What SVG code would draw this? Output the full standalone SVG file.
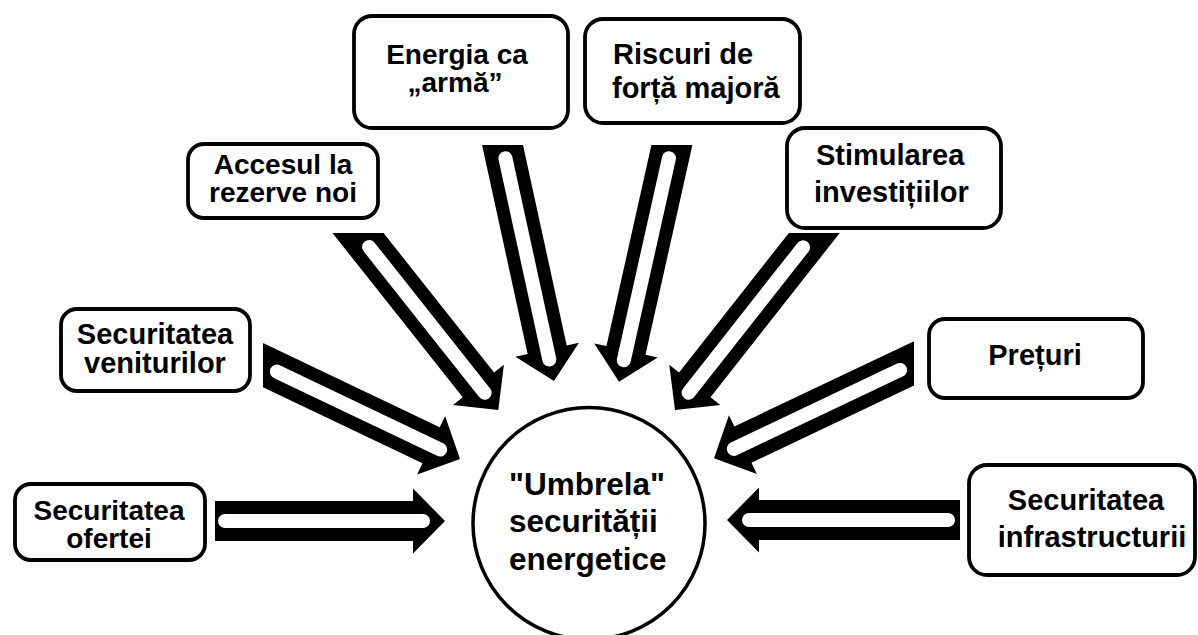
<svg xmlns="http://www.w3.org/2000/svg" xmlns:xlink="http://www.w3.org/1999/xlink" width="1198" height="635" viewBox="0 0 1198 635">
<style>
.box{fill:#fff;stroke:#000;stroke-width:3.8}
.circ{fill:#fff;stroke:#000;stroke-width:3.5}
.t{font-family:"Liberation Sans",Arial,sans-serif;font-weight:bold;font-size:29px;fill:#000}
.s{font-size:28px}
.c{text-anchor:middle}
.big{font-size:31.5px}
.ab{fill:#000}
.strip{fill:#fff}
</style>
<defs>
<path id="arrowBody" d="M0,0 L-32,-32.5 L-32,-20 L-320,-20 L-320,20 L-32,20 L-32,32.5 Z"/>
<clipPath id="cA" clipPathUnits="userSpaceOnUse"><rect x="263" y="0" width="935" height="635"/></clipPath>
<clipPath id="cB" clipPathUnits="userSpaceOnUse"><rect x="0" y="233" width="1198" height="402"/></clipPath>
<clipPath id="cC" clipPathUnits="userSpaceOnUse"><rect x="0" y="145" width="1198" height="490"/></clipPath>
<clipPath id="cF" clipPathUnits="userSpaceOnUse"><rect x="0" y="0" width="914" height="635"/></clipPath>
<clipPath id="cG" clipPathUnits="userSpaceOnUse"><rect x="215" y="0" width="983" height="635"/></clipPath>
<clipPath id="cH" clipPathUnits="userSpaceOnUse"><rect x="0" y="0" width="960" height="635"/></clipPath>
</defs>
<rect width="1198" height="635" fill="#fff"/>

<g id="connectors">
  <g clip-path="url(#cA)"><g transform="translate(460 459) rotate(25.5)"><use href="#arrowBody" class="ab"/><rect class="strip" x="-210" y="-7" width="195" height="14" rx="7"/></g></g>
  <g clip-path="url(#cB)"><g transform="translate(498.3 410) rotate(51.6)"><use href="#arrowBody" class="ab"/><rect class="strip" x="-215" y="-7" width="200" height="14" rx="7"/></g></g>
  <g clip-path="url(#cC)"><g transform="translate(554 381) rotate(77.7)"><use href="#arrowBody" class="ab"/><rect class="strip" x="-235" y="-7" width="220" height="14" rx="7"/></g></g>
  <g clip-path="url(#cC)"><g transform="translate(619 381.7) rotate(102.6)"><use href="#arrowBody" class="ab"/><rect class="strip" x="-236" y="-7" width="221" height="14" rx="7"/></g></g>
  <g clip-path="url(#cB)"><g transform="translate(675 410) rotate(128.2)"><use href="#arrowBody" class="ab"/><rect class="strip" x="-214" y="-7" width="199" height="14" rx="7"/></g></g>
  <g clip-path="url(#cF)"><g transform="translate(714 458.3) rotate(154.6)"><use href="#arrowBody" class="ab"/><rect class="strip" x="-213" y="-7" width="198" height="14" rx="7"/></g></g>
  <g clip-path="url(#cG)"><g transform="translate(445 521)"><use href="#arrowBody" class="ab"/><rect class="strip" x="-227" y="-7" width="212" height="14" rx="7"/></g></g>
  <g clip-path="url(#cH)"><g transform="translate(727 520) rotate(180)"><use href="#arrowBody" class="ab"/><rect class="strip" x="-228" y="-7" width="213" height="14" rx="7"/></g></g>
</g>

<g id="node-center">
  <circle class="circ" cx="589" cy="523.5" r="116"/>
  <text class="t big" x="509" y="495">"Umbrela"</text>
  <text class="t big" x="509" y="532">securității</text>
  <text class="t big" x="509" y="570">energetice</text>
</g>

<g id="node-oferta">
  <rect class="box" x="15" y="484" width="190" height="76" rx="16"/>
  <text class="t s c" x="109" y="520">Securitatea</text>
  <text class="t s c" x="109" y="548">ofertei</text>
</g>

<g id="node-venituri">
  <rect class="box" x="61" y="309" width="189" height="82" rx="16"/>
  <text class="t c" x="155" y="344">Securitatea</text>
  <text class="t c" x="155" y="373">veniturilor</text>
</g>

<g id="node-acces">
  <rect class="box" x="188" y="144" width="190" height="74" rx="16"/>
  <text class="t s c" x="283" y="174">Accesul la</text>
  <text class="t s c" x="283" y="202">rezerve noi</text>
</g>

<g id="node-energia">
  <rect class="box" x="354" y="16" width="214" height="112" rx="18"/>
  <text class="t s c" x="457" y="64">Energia ca</text>
  <text class="t s c" x="455" y="92">„armă”</text>
</g>

<g id="node-riscuri">
  <rect class="box" x="585" y="19" width="215" height="104" rx="18"/>
  <text class="t" x="613" y="64">Riscuri de</text>
  <text class="t" x="612" y="98">forță majoră</text>
</g>

<g id="node-stimularea">
  <rect class="box" x="787" y="128" width="214" height="100" rx="18"/>
  <text class="t" x="816" y="165">Stimularea</text>
  <text class="t" x="814" y="202">investițiilor</text>
</g>

<g id="node-preturi">
  <rect class="box" x="929" y="319" width="214" height="79" rx="16"/>
  <text class="t c" x="1035" y="365">Prețuri</text>
</g>

<g id="node-infrastructura">
  <rect class="box" x="969" y="465" width="226" height="110" rx="18"/>
  <text class="t c" x="1086" y="510">Securitatea</text>
  <text class="t c" x="1092" y="547">infrastructurii</text>
</g>
</svg>
